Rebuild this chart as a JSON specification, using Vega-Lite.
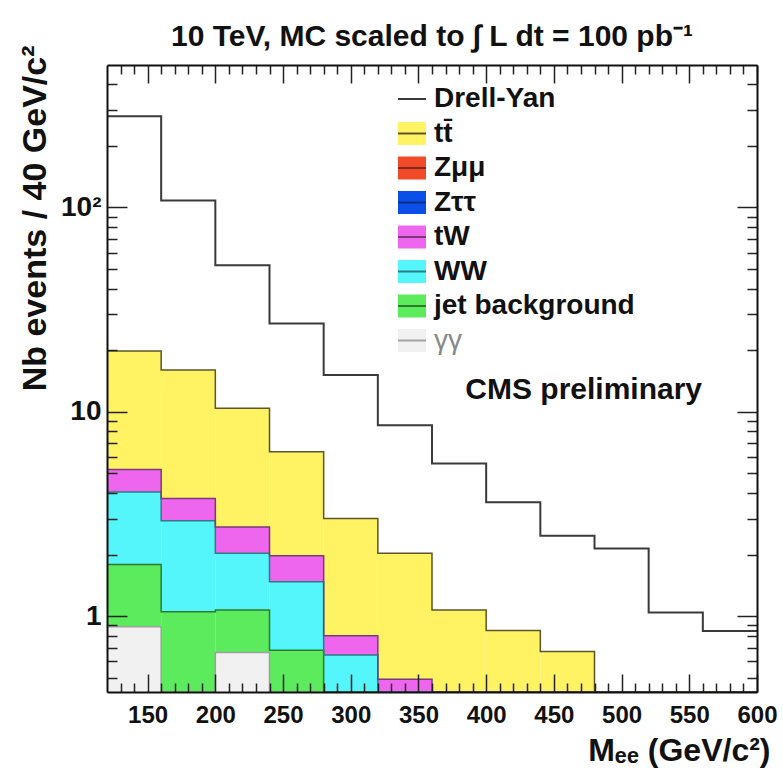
{
  "$schema": "https://vega.github.io/schema/vega-lite/v6.json",
  "width": 650,
  "height": 627,
  "autosize": "none",
  "padding": {"left": 107, "top": 65, "right": 26, "bottom": 77},
  "background": "white",
  "config": {"font": "Liberation Sans", "view": {"stroke": null}},
  "title": {
    "text": "10 TeV, MC scaled to \u222B L dt = 100 pb\u207B\u00B9",
    "font": "Liberation Sans",
    "fontSize": 30,
    "fontWeight": "bold",
    "color": "#111",
    "anchor": "middle",
    "frame": "group",
    "offset": -7
  },
  "datasets": {
    "stacked": [
      {"process": "\u03B3\u03B3", "lo": 120, "hi": 160, "n": 0.887},
      {"process": "\u03B3\u03B3", "lo": 160, "hi": 200, "n": 0},
      {"process": "\u03B3\u03B3", "lo": 200, "hi": 240, "n": 0.664},
      {"process": "\u03B3\u03B3", "lo": 240, "hi": 280, "n": 0},
      {"process": "\u03B3\u03B3", "lo": 280, "hi": 320, "n": 0},
      {"process": "\u03B3\u03B3", "lo": 320, "hi": 360, "n": 0},
      {"process": "\u03B3\u03B3", "lo": 360, "hi": 400, "n": 0},
      {"process": "\u03B3\u03B3", "lo": 400, "hi": 440, "n": 0},
      {"process": "\u03B3\u03B3", "lo": 440, "hi": 480, "n": 0},
      {"process": "\u03B3\u03B3", "lo": 480, "hi": 520, "n": 0},
      {"process": "\u03B3\u03B3", "lo": 520, "hi": 560, "n": 0},
      {"process": "\u03B3\u03B3", "lo": 560, "hi": 600, "n": 0},
      {"process": "jet background", "lo": 120, "hi": 160, "n": 0.903},
      {"process": "jet background", "lo": 160, "hi": 200, "n": 1.05},
      {"process": "jet background", "lo": 200, "hi": 240, "n": 0.406},
      {"process": "jet background", "lo": 240, "hi": 280, "n": 0.68},
      {"process": "jet background", "lo": 280, "hi": 320, "n": 0},
      {"process": "jet background", "lo": 320, "hi": 360, "n": 0},
      {"process": "jet background", "lo": 360, "hi": 400, "n": 0},
      {"process": "jet background", "lo": 400, "hi": 440, "n": 0},
      {"process": "jet background", "lo": 440, "hi": 480, "n": 0},
      {"process": "jet background", "lo": 480, "hi": 520, "n": 0},
      {"process": "jet background", "lo": 520, "hi": 560, "n": 0},
      {"process": "jet background", "lo": 560, "hi": 600, "n": 0},
      {"process": "WW", "lo": 120, "hi": 160, "n": 2.26},
      {"process": "WW", "lo": 160, "hi": 200, "n": 1.88},
      {"process": "WW", "lo": 200, "hi": 240, "n": 0.96},
      {"process": "WW", "lo": 240, "hi": 280, "n": 0.79},
      {"process": "WW", "lo": 280, "hi": 320, "n": 0.645},
      {"process": "WW", "lo": 320, "hi": 360, "n": 0},
      {"process": "WW", "lo": 360, "hi": 400, "n": 0},
      {"process": "WW", "lo": 400, "hi": 440, "n": 0},
      {"process": "WW", "lo": 440, "hi": 480, "n": 0},
      {"process": "WW", "lo": 480, "hi": 520, "n": 0},
      {"process": "WW", "lo": 520, "hi": 560, "n": 0},
      {"process": "WW", "lo": 560, "hi": 600, "n": 0},
      {"process": "tW", "lo": 120, "hi": 160, "n": 1.17},
      {"process": "tW", "lo": 160, "hi": 200, "n": 0.83},
      {"process": "tW", "lo": 200, "hi": 240, "n": 0.70},
      {"process": "tW", "lo": 240, "hi": 280, "n": 0.50},
      {"process": "tW", "lo": 280, "hi": 320, "n": 0.155},
      {"process": "tW", "lo": 320, "hi": 360, "n": 0.49},
      {"process": "tW", "lo": 360, "hi": 400, "n": 0},
      {"process": "tW", "lo": 400, "hi": 440, "n": 0},
      {"process": "tW", "lo": 440, "hi": 480, "n": 0},
      {"process": "tW", "lo": 480, "hi": 520, "n": 0},
      {"process": "tW", "lo": 520, "hi": 560, "n": 0},
      {"process": "tW", "lo": 560, "hi": 600, "n": 0},
      {"process": "tt\u0304", "lo": 120, "hi": 160, "n": 14.58},
      {"process": "tt\u0304", "lo": 160, "hi": 200, "n": 12.24},
      {"process": "tt\u0304", "lo": 200, "hi": 240, "n": 7.67},
      {"process": "tt\u0304", "lo": 240, "hi": 280, "n": 4.39},
      {"process": "tt\u0304", "lo": 280, "hi": 320, "n": 2.2},
      {"process": "tt\u0304", "lo": 320, "hi": 360, "n": 1.54},
      {"process": "tt\u0304", "lo": 360, "hi": 400, "n": 1.07},
      {"process": "tt\u0304", "lo": 400, "hi": 440, "n": 0.85},
      {"process": "tt\u0304", "lo": 440, "hi": 480, "n": 0.67},
      {"process": "tt\u0304", "lo": 480, "hi": 520, "n": 0},
      {"process": "tt\u0304", "lo": 520, "hi": 560, "n": 0},
      {"process": "tt\u0304", "lo": 560, "hi": 600, "n": 0}
    ],
    "drellyan": [
      {"process": "Drell-Yan", "lo": 120, "hi": 160, "n": 278.6},
      {"process": "Drell-Yan", "lo": 160, "hi": 200, "n": 108},
      {"process": "Drell-Yan", "lo": 200, "hi": 240, "n": 52},
      {"process": "Drell-Yan", "lo": 240, "hi": 280, "n": 27},
      {"process": "Drell-Yan", "lo": 280, "hi": 320, "n": 15.1},
      {"process": "Drell-Yan", "lo": 320, "hi": 360, "n": 8.59},
      {"process": "Drell-Yan", "lo": 360, "hi": 400, "n": 5.58},
      {"process": "Drell-Yan", "lo": 400, "hi": 440, "n": 3.60},
      {"process": "Drell-Yan", "lo": 440, "hi": 480, "n": 2.47},
      {"process": "Drell-Yan", "lo": 480, "hi": 520, "n": 2.14},
      {"process": "Drell-Yan", "lo": 520, "hi": 560, "n": 1.04},
      {"process": "Drell-Yan", "lo": 560, "hi": 600, "n": 0.845}
    ]
  },
  "layer": [
    {
      "data": {"name": "stacked"},
      "transform": [
        {"calculate": "indexof(['\u03B3\u03B3','jet background','WW','tW','Z\u03C4\u03C4','Z\u03BC\u03BC','tt\u0304'], datum.process)", "as": "rank"},
        {"stack": "n", "groupby": ["lo"], "sort": [{"field": "rank", "order": "ascending"}], "as": ["n0", "n1"]}
      ],
      "mark": {"type": "rect", "strokeWidth": 0},
      "encoding": {
        "x": {
          "field": "lo", "type": "quantitative",
          "scale": {"domain": [120, 600], "nice": false, "zero": false},
          "axis": {
            "orient": "bottom",
            "values": [130,140,150,160,170,180,190,200,210,220,230,240,250,260,270,280,290,300,310,320,330,340,350,360,370,380,390,400,410,420,430,440,450,460,470,480,490,500,510,520,530,540,550,560,570,580,590,600],
            "labelExpr": "datum.value % 50 === 0 ? datum.label : ''",
            "labelFont": "Liberation Sans", "labelFontSize": 24, "labelFontWeight": "bold", "labelColor": "#111",
            "labelPadding": 29, "labelOverlap": false, "labelFlush": false, "labelBound": false,
            "ticks": true, "tickColor": "#222", "tickWidth": 1.5,
            "tickSize": {"condition": {"test": "datum.value % 50 === 0", "value": -18}, "value": -9},
            "domain": true, "domainColor": "#111", "domainWidth": 2,
            "grid": false, "zindex": 1,
            "title": "M\u2091\u2091 (GeV/c\u00B2)",
            "titleFont": "Liberation Sans", "titleFontSize": 32, "titleFontWeight": "bold", "titleColor": "#111",
            "titleAlign": "right", "titleBaseline": "alphabetic", "titleX": 663, "titleY": 68
          }
        },
        "x2": {"field": "hi"},
        "y": {
          "field": "n1", "type": "quantitative",
          "scale": {"type": "log", "domain": [0.425, 497], "nice": false, "clamp": true},
          "axis": {
            "orient": "left",
            "values": [0.5,0.6,0.7,0.8,0.9,1,2,3,4,5,6,7,8,9,10,20,30,40,50,60,70,80,90,100,200,300,400],
            "labelExpr": "datum.value === 100 ? '10\u00B2' : (datum.value === 10 ? '10' : (datum.value === 1 ? '1' : ''))",
            "labelFont": "Liberation Sans", "labelFontSize": 28, "labelFontWeight": "bold", "labelColor": "#111",
            "labelPadding": 26, "labelOverlap": false, "labelFlush": false, "labelBound": false,
            "ticks": true, "tickColor": "#222", "tickWidth": 1.5,
            "tickSize": {"condition": {"test": "datum.value === 1 || datum.value === 10 || datum.value === 100", "value": -20}, "value": -10},
            "domain": true, "domainColor": "#111", "domainWidth": 2,
            "grid": false, "zindex": 1,
            "title": "Nb events / 40 GeV/c\u00B2",
            "titleFont": "Liberation Sans", "titleFontSize": 34, "titleFontWeight": "bold", "titleColor": "#111",
            "titleAngle": 270, "titleAlign": "right", "titleBaseline": "middle", "titleX": -72, "titleY": -20
          }
        },
        "y2": {"field": "n0"},
        "fill": {
          "field": "process", "type": "nominal",
          "scale": {
            "domain": ["Drell-Yan", "tt\u0304", "Z\u03BC\u03BC", "Z\u03C4\u03C4", "tW", "WW", "jet background", "\u03B3\u03B3"],
            "range": ["transparent", "#FFF263", "#F04A28", "#0A4FE8", "#EE66EE", "#55F6FB", "#5CEB5C", "#F1F1F1"]
          },
          "legend": {
            "orient": "none", "legendX": 290, "legendY": 19, "padding": 0, "offset": 0,
            "title": null,
            "symbolType": "M-1,0H1V0.82H-1V-0.82H1V0Z", "symbolSize": 784,
            "symbolStrokeWidth": 2, "symbolDash": [28, 2000], "symbolOpacity": 1,
            "labelFont": "Liberation Sans", "labelFontSize": 28, "labelFontWeight": "bold", "labelColor": "#111",
            "labelOffset": 7, "labelLimit": 400, "rowPadding": 2.5,
            "encode": {
              "symbols": {"update": {
                "stroke": {"signal": "scale('stroke', datum.value)"},
                "strokeDash": {"value": [28, 2000]},
                "strokeWidth": {"value": 2}
              }},
              "labels": {"update": {
                "fill": {"signal": "datum.value === '\u03B3\u03B3' ? '#888' : '#111'"},
                "fontWeight": {"signal": "datum.value === '\u03B3\u03B3' ? 'normal' : 'bold'"}
              }}
            }
          }
        }
      }
    },
    {
      "data": {"name": "stacked"},
      "transform": [
        {"calculate": "indexof(['\u03B3\u03B3','jet background','WW','tW','Z\u03C4\u03C4','Z\u03BC\u03BC','tt\u0304'], datum.process)", "as": "rank"},
        {"stack": "n", "groupby": ["lo"], "sort": [{"field": "rank", "order": "ascending"}], "as": ["n0", "n1"]},
        {"fold": ["lo", "hi"], "as": ["side", "m"]}
      ],
      "mark": {"type": "line", "strokeWidth": 1.5, "interpolate": "linear"},
      "encoding": {
        "x": {
          "field": "m", "type": "quantitative",
          "scale": {"domain": [120, 600], "nice": false, "zero": false},
          "axis": {
            "orient": "top",
            "values": [130,140,150,160,170,180,190,200,210,220,230,240,250,260,270,280,290,300,310,320,330,340,350,360,370,380,390,400,410,420,430,440,450,460,470,480,490,500,510,520,530,540,550,560,570,580,590,600],
            "labels": false, "title": null,
            "ticks": true, "tickColor": "#222", "tickWidth": 1.5,
            "tickSize": {"condition": {"test": "datum.value % 50 === 0", "value": -18}, "value": -9},
            "domain": true, "domainColor": "#111", "domainWidth": 2,
            "grid": false, "zindex": 1
          }
        },
        "y": {
          "field": "n1", "type": "quantitative",
          "scale": {"type": "log", "domain": [0.425, 497], "nice": false, "clamp": true},
          "axis": {
            "orient": "right",
            "values": [0.5,0.6,0.7,0.8,0.9,1,2,3,4,5,6,7,8,9,10,20,30,40,50,60,70,80,90,100,200,300,400],
            "labels": false, "title": null,
            "ticks": true, "tickColor": "#222", "tickWidth": 1.5,
            "tickSize": {"condition": {"test": "datum.value === 1 || datum.value === 10 || datum.value === 100", "value": -20}, "value": -10},
            "domain": true, "domainColor": "#111", "domainWidth": 2,
            "grid": false, "zindex": 1
          }
        },
        "stroke": {
          "field": "process", "type": "nominal",
          "scale": {
            "domain": ["Drell-Yan", "tt\u0304", "Z\u03BC\u03BC", "Z\u03C4\u03C4", "tW", "WW", "jet background", "\u03B3\u03B3"],
            "range": ["#3A3A3A", "#5C5628", "#7A2A1A", "#0A2F80", "#7A3A7A", "#2A7E84", "#2E7A2E", "#A0A0A0"]
          },
          "legend": null
        },
        "order": [{"field": "lo", "type": "quantitative"}, {"field": "m", "type": "quantitative"}]
      }
    },
    {
      "data": {"name": "drellyan"},
      "transform": [
        {"fold": ["lo", "hi"], "as": ["side", "m"]}
      ],
      "mark": {"type": "line", "strokeWidth": 2, "interpolate": "linear"},
      "encoding": {
        "x": {"field": "m", "type": "quantitative", "scale": {"domain": [120, 600], "nice": false, "zero": false}, "axis": null},
        "y": {"field": "n", "type": "quantitative", "scale": {"type": "log", "domain": [0.425, 497], "nice": false, "clamp": true}, "axis": null},
        "stroke": {"field": "process", "type": "nominal", "legend": null},
        "order": [{"field": "lo", "type": "quantitative"}, {"field": "m", "type": "quantitative"}]
      }
    },
    {
      "data": {"values": [{"label": "CMS preliminary"}]},
      "mark": {"type": "text", "font": "Liberation Sans", "fontSize": 30, "fontWeight": "bold", "align": "center", "baseline": "alphabetic", "color": "#111"},
      "encoding": {
        "x": {"datum": 472, "type": "quantitative", "axis": null},
        "y": {"datum": 11.5, "type": "quantitative", "axis": null},
        "text": {"field": "label"}
      }
    }
  ],
  "resolve": {"axis": {"x": "independent", "y": "independent"}}
}
